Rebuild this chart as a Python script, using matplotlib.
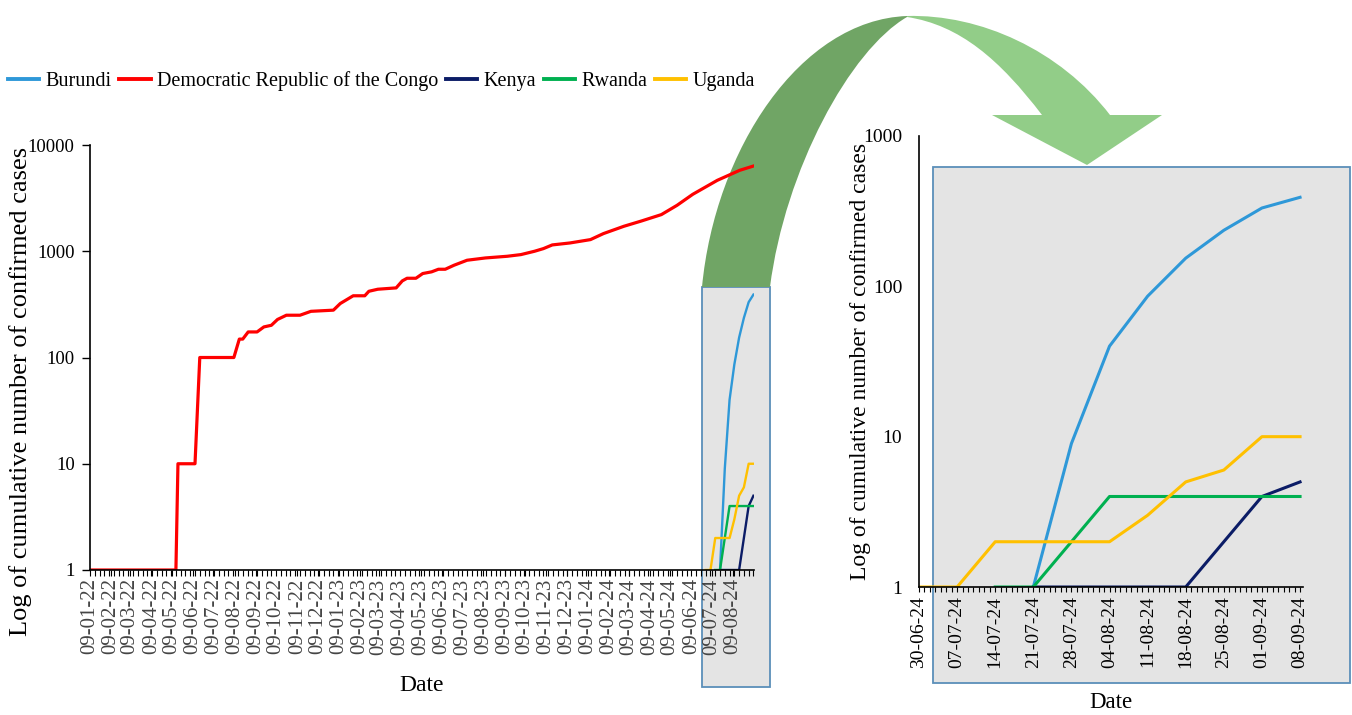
import numpy as np
import pandas as pd
import matplotlib
matplotlib.use("Agg")
import matplotlib.pyplot as plt
import matplotlib.dates as mdates
from matplotlib.ticker import FixedLocator, NullLocator, FuncFormatter
from matplotlib.patches import Rectangle, PathPatch
from matplotlib.path import Path
from matplotlib.transforms import Affine2D

plt.rcParams['font.family'] = ['Liberation Serif', 'DejaVu Serif']

# DRC cumulative confirmed cases
drc_dates = ['2022-01-09', '2022-05-15', '2022-05-18', '2022-06-12', '2022-06-19',
             '2022-08-08', '2022-08-16', '2022-08-21', '2022-08-29', '2022-09-11',
             '2022-09-21', '2022-10-02', '2022-10-11', '2022-10-24', '2022-11-13',
             '2022-11-29', '2023-01-01', '2023-01-11', '2023-01-30', '2023-02-16',
             '2023-02-22', '2023-03-07', '2023-04-03', '2023-04-12', '2023-04-19',
             '2023-05-02', '2023-05-12', '2023-05-25', '2023-06-04', '2023-06-14',
             '2023-06-27', '2023-07-16', '2023-08-12', '2023-09-13', '2023-10-03',
             '2023-10-23', '2023-11-05', '2023-11-18', '2023-12-14', '2024-01-13',
             '2024-02-01', '2024-03-02', '2024-03-28', '2024-04-26', '2024-05-19',
             '2024-06-11', '2024-07-17', '2024-08-19', '2024-09-08']
drc_values = [1, 1, 10, 10, 100,
              100, 149, 149, 174, 174,
              194, 201, 228, 250, 250,
              272, 279, 322, 381, 381,
              420, 439, 452, 526, 557,
              557, 617, 640, 677, 677,
              739, 823, 865, 897, 930,
              1000, 1059, 1147, 1197, 1287,
              1466, 1718, 1929, 2213, 2707,
              3434, 4650, 5782, 6340]

# weekly counts for the other countries (right panel)
week_dates = ['2024-06-30', '2024-07-07', '2024-07-14', '2024-07-21', '2024-07-28',
              '2024-08-04', '2024-08-11', '2024-08-18', '2024-08-25', '2024-09-01',
              '2024-09-08']
nan = np.nan
burundi = [nan, nan, nan, 1, 9, 40, 86, 154, 236, 332, 391]
kenya = [nan, nan, nan, 1, 1, 1, 1, 1, 2, 4, 5]
rwanda = [nan, nan, 1, 1, 2, 4, 4, 4, 4, 4, 4]
uganda = [1, 1, 2, 2, 2, 2, 3, 5, 6, 10, 10]

colors = {'Burundi': '#2e98d8', 'Democratic Republic of the Congo': '#ff0000',
          'Kenya': '#0b1c66', 'Rwanda': '#00b050', 'Uganda': '#ffc000'}

drc_x = pd.to_datetime(drc_dates)
wk_x = pd.to_datetime(week_dates)
others = [('Burundi', burundi), ('Kenya', kenya), ('Rwanda', rwanda), ('Uganda', uganda)]

W, H = 1352, 715
fig = plt.figure(figsize=(W / 100, H / 100), dpi=100)
px = Affine2D().scale(1 / W, -1 / H).translate(0, 1) + fig.transFigure

# gray highlight boxes
box_kw = dict(facecolor='#e4e4e4', edgecolor='#5b8fb9', linewidth=1.3, zorder=-2, transform=px)
fig.add_artist(Rectangle((702, 287), 68, 400, **box_kw))
fig.add_artist(Rectangle((933, 167), 417, 516, **box_kw))

# curved arrow (dark back face + light front face)
dark = Path([(702, 287), (715, 150), (800, 20), (907, 16),
             (907, 17), (850, 50), (785, 170), (770, 287), (702, 287)],
            [Path.MOVETO, Path.CURVE4, Path.CURVE4, Path.CURVE4,
             Path.LINETO, Path.CURVE4, Path.CURVE4, Path.CURVE4, Path.CLOSEPOLY])
light = Path([(907, 16), (980, 14), (1060, 50), (1110, 115),
              (1162, 115), (1087, 165), (992, 115), (1042, 115),
              (1000, 60), (960, 25), (907, 17), (907, 16)],
             [Path.MOVETO, Path.CURVE4, Path.CURVE4, Path.CURVE4,
              Path.LINETO, Path.LINETO, Path.LINETO, Path.LINETO,
              Path.CURVE4, Path.CURVE4, Path.CURVE4, Path.CLOSEPOLY])
fig.add_artist(PathPatch(dark, facecolor='#70a565', edgecolor='none', zorder=-1, transform=px))
fig.add_artist(PathPatch(light, facecolor='#92cd88', edgecolor='none', zorder=-1, transform=px))

# ---------- left panel ----------
ax1 = fig.add_axes([90 / W, 1 - 570 / H, 664 / W, 425 / H])
ax1.patch.set_alpha(0)
h_drc, = ax1.plot(drc_x, drc_values, color=colors['Democratic Republic of the Congo'], lw=2.3)
handles = {'Democratic Republic of the Congo': h_drc}
for name, vals in others:
    h, = ax1.plot(wk_x, vals, color=colors[name], lw=1.7)
    handles[name] = h
ax1.set_yscale('log')
ax1.set_ylim(1, 10000)
ax1.set_xlim(pd.Timestamp('2022-01-09'), pd.Timestamp('2024-09-08 20:00'))
ax1.yaxis.set_major_locator(FixedLocator([1, 10, 100, 1000, 10000]))
ax1.yaxis.set_minor_locator(NullLocator())
ax1.yaxis.set_major_formatter(FuncFormatter(lambda v, p: '%d' % v))
ax1.xaxis.set_major_locator(mdates.MonthLocator(bymonthday=9))
ax1.xaxis.set_minor_locator(mdates.WeekdayLocator(byweekday=mdates.SU))
ax1.xaxis.set_major_formatter(mdates.DateFormatter('%d-%m-%y'))
ax1.tick_params(axis='x', which='major', rotation=90, labelsize=15, length=4, width=0.8,
                colors='black', labelcolor='#444444', pad=2)
ax1.tick_params(axis='x', which='minor', length=4, width=0.8)
ax1.tick_params(axis='y', labelsize=13.5, length=6, width=1, pad=5)
for s in ['top', 'right']:
    ax1.spines[s].set_visible(False)
for s in ['left', 'bottom']:
    ax1.spines[s].set_linewidth(1.2)
ax1.set_xlabel('Date', fontsize=17)
ax1.set_ylabel('Log of cumulative number of confirmed cases', fontsize=19)
ax1.yaxis.set_label_coords(-0.088, 0.42)
ax1.xaxis.set_label_coords(0.5, -0.247)

# ---------- right panel ----------
ax2 = fig.add_axes([919 / W, 1 - 587 / H, 384 / W, 451 / H])
ax2.patch.set_alpha(0)
for name, vals in others:
    ax2.plot(wk_x, vals, color=colors[name], lw=2.2)
ax2.set_yscale('log')
ax2.set_ylim(1, 1000)
ax2.set_xlim(pd.Timestamp('2024-06-30'), pd.Timestamp('2024-09-08 13:00'))
ax2.yaxis.set_major_locator(FixedLocator([1, 10, 100, 1000]))
ax2.yaxis.set_minor_locator(NullLocator())
ax2.yaxis.set_major_formatter(FuncFormatter(lambda v, p: '%d' % v))
ax2.xaxis.set_major_locator(mdates.WeekdayLocator(byweekday=mdates.SU))
ax2.xaxis.set_minor_locator(mdates.DayLocator())
ax2.xaxis.set_major_formatter(mdates.DateFormatter('%d-%m-%y'))
ax2.tick_params(axis='x', which='major', rotation=90, labelsize=14, length=3.5, width=0.8, pad=3)
ax2.tick_params(axis='x', which='minor', length=3.5, width=0.8)
ax2.tick_params(axis='y', labelsize=14, length=0, pad=12)
for s in ['top', 'right']:
    ax2.spines[s].set_visible(False)
for s in ['left', 'bottom']:
    ax2.spines[s].set_linewidth(1.2)
ax2.set_xlabel('Date', fontsize=16.5)
ax2.set_ylabel('Log of cumulative number of confirmed cases', fontsize=17)
ax2.yaxis.set_label_coords(-0.125, 0.5)
ax2.xaxis.set_label_coords(0.5, -0.233)

# legend
order = ['Burundi', 'Democratic Republic of the Congo', 'Kenya', 'Rwanda', 'Uganda']
leg = fig.legend([handles[n] for n in order], order, loc='center left',
                 bbox_to_anchor=(8 / W, 1 - 81 / H), ncol=5, frameon=False, fontsize=14.5,
                 handlelength=1.55, handletextpad=0.3, columnspacing=0.4,
                 borderaxespad=0, borderpad=0)
for ln in leg.get_lines():
    ln.set_linewidth(2.8)

fig.savefig('out.png', dpi=100)
